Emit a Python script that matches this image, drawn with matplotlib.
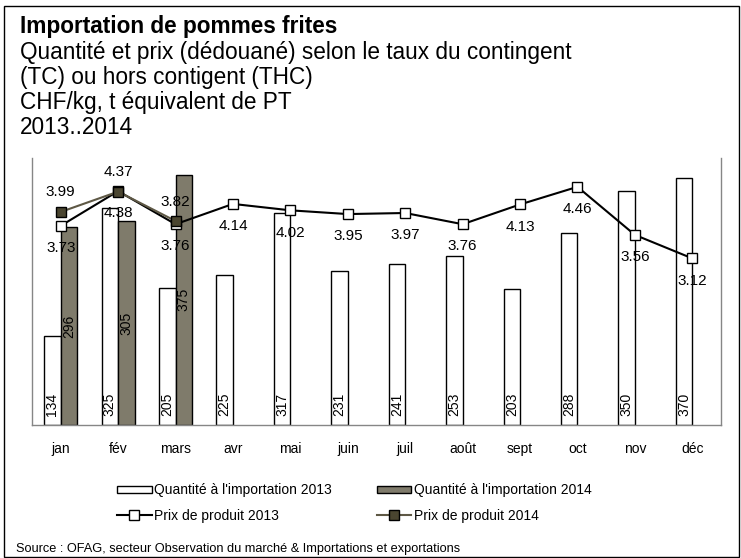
import matplotlib
matplotlib.use("Agg")
import matplotlib.pyplot as plt
import numpy as np
from matplotlib.patches import Rectangle, Patch
from matplotlib.lines import Line2D

plt.rcParams['font.family'] = ['Liberation Sans', 'DejaVu Sans']

months = ["jan", "fév", "mars", "avr", "mai", "juin", "juil", "août", "sept", "oct", "nov", "déc"]
qty_2013 = [134, 325, 205, 225, 317, 231, 241, 253, 203, 288, 350, 370]
qty_2014 = [296, 305, 375]
price_2013 = [3.73, 4.38, 3.76, 4.14, 4.02, 3.95, 3.97, 3.76, 4.13, 4.46, 3.56, 3.12]
price_2014 = [3.99, 4.37, 3.82]

title = "Importation de pommes frites"
title_lines = ["Quantité et prix (dédouané) selon le taux du contingent",
               "(TC) ou hors contigent (THC)",
               "CHF/kg, t équivalent de PT",
               "2013..2014"]
source = "Source : OFAG, secteur Observation du marché & Importations et exportations"

W, H = 741, 558
fig = plt.figure(figsize=(W/100, H/100), dpi=100)

def fx(px): return px / W
def fy(py): return 1 - py / H

# outer border
fig.patches.append(Rectangle((fx(4), fy(557)), fx(735), 551/H, transform=fig.transFigure,
                             fill=False, edgecolor='black', linewidth=1.0))

fig.text(fx(20), fy(27), title, fontsize=16.3, fontweight='bold', va='center')
for i, t in enumerate(title_lines):
    fig.text(fx(20), fy(52 + i*25.3), t, fontsize=16.3, va='center')

ax = fig.add_axes([fx(32), fy(425), fx(721) - fx(32), (425-158)/H])
ax.set_xlim(-0.5, 11.5)
ax.set_ylim(0, 400)
x = np.arange(len(months))
w = 0.287
ax.bar(x - w/2, qty_2013, w, color='white', edgecolor='black', linewidth=1.0, zorder=2)
x14 = x[:len(qty_2014)]
ax.bar(x14 + w/2, qty_2014, w, color='#7f7b6b', edgecolor='black', linewidth=1.0, zorder=2)

for xi, v in zip(x, qty_2013):
    ax.text(xi - w/2, 14, str(v), rotation=90, ha='center', va='bottom', fontsize=10, zorder=3)
for xi, v in zip(x14, qty_2014):
    ax.text(xi + w/2, v/2, str(v), rotation=90, ha='center', va='center', fontsize=10, zorder=3)

ax.spines['top'].set_visible(False)
for s in ['left', 'right', 'bottom']:
    ax.spines[s].set_color('#868686')
    ax.spines[s].set_linewidth(1.0)
ax.set_yticks([])
ax.set_xticks(x)
ax.set_xticklabels(months, fontsize=10)
ax.tick_params(axis='x', length=0, pad=12)

ax2 = ax.twinx()
ax2.set_ylim(0, 5)
ax2.set_yticks([])
for s in ax2.spines.values():
    s.set_visible(False)
ax2.plot(x, price_2013, color='black', linewidth=1.5, marker='s', markersize=7,
         markerfacecolor='white', markeredgecolor='black', markeredgewidth=1.0, zorder=4)
ax2.plot(x14, price_2014, color='#5e5845', linewidth=1.5, marker='s', markersize=7,
         markerfacecolor='#4a4530', markeredgecolor='black', markeredgewidth=1.0, zorder=5)
for xi, v in zip(x, price_2013):
    ax2.annotate(f"{v:.2f}", (xi, v), xytext=(0, -16), textcoords='offset points',
                 ha='center', va='center', fontsize=11, zorder=6)
for xi, v in zip(x14, price_2014):
    ax2.annotate(f"{v:.2f}", (xi, v), xytext=(0, 14), textcoords='offset points',
                 ha='center', va='center', fontsize=11, zorder=6)

handles = [Patch(facecolor='white', edgecolor='black', linewidth=1.0),
           Line2D([], [], color='black', linewidth=1.5, marker='s', markersize=7,
                  markerfacecolor='white', markeredgecolor='black'),
           Patch(facecolor='#7f7b6b', edgecolor='black', linewidth=1.0),
           Line2D([], [], color='#5e5845', linewidth=1.5, marker='s', markersize=7,
                  markerfacecolor='#4a4530', markeredgecolor='black')]
labels = ["Quantité à l'importation 2013", "Prix de produit 2013",
          "Quantité à l'importation 2014", "Prix de produit 2014"]
fig.legend(handles, labels, ncol=2, loc='center left', bbox_to_anchor=(fx(117), fy(503)),
           frameon=False, fontsize=10, handlelength=2.5, handletextpad=0.2,
           columnspacing=3.2, labelspacing=0.8, borderpad=0, borderaxespad=0, handleheight=0.5)

fig.text(fx(16), fy(549), source, fontsize=9.2, va='center')

fig.savefig("out.png", dpi=100)
